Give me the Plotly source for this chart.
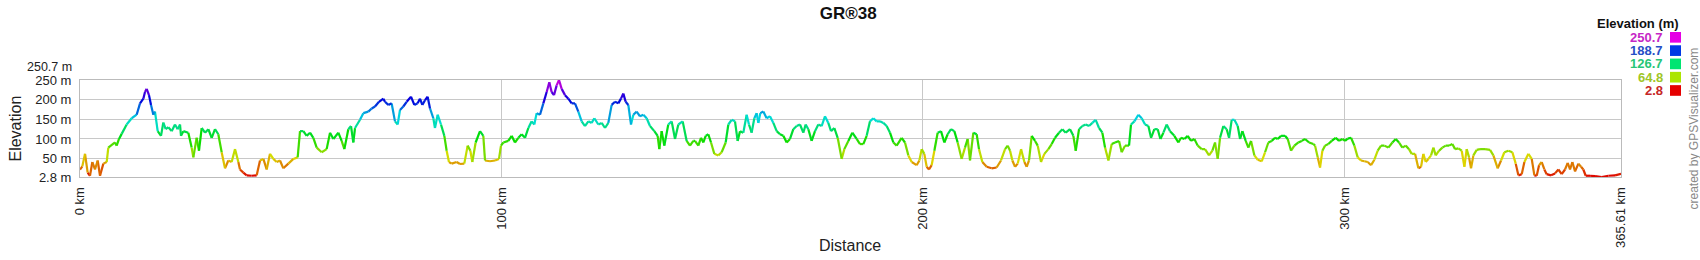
import colorsys
import plotly.graph_objects as go

chart_title = "GR®38"

distance_km = [
    0, 0.55, 1.19, 1.82, 2.37, 2.93, 3.56, 4.19, 4.75, 5.54, 6.33, 6.72, 8.30, 8.70, 9.25,
    9.89, 11.07, 12.26, 13.44, 14.24, 15.03, 15.42, 15.82, 16.37, 16.85, 17.40, 17.79, 18.43,
    19.22, 19.77, 20.33, 20.96, 21.75, 22.54, 23.17, 23.73, 23.96, 24.52, 25.70, 26.49, 26.89,
    27.68, 28.23, 28.87, 29.66, 30.45, 31.24, 32.03, 32.82, 33.61, 34.40, 35.19, 35.98, 36.78,
    37.57, 37.96, 38.75, 39.54, 40.73, 41.92, 42.71, 43.50, 44.29, 45.08, 45.87, 46.66, 47.45,
    48.24, 49.43, 50.62, 51.64, 52.20, 52.99, 53.78, 54.57, 55.36, 56.15, 57.34, 58.52, 59.32,
    60.11, 61.29, 62.08, 62.72, 63.66, 64.30, 64.85, 65.25, 66.43, 67.22, 68.41, 69.20, 69.99,
    70.94, 71.97,
    72.36, 73.15, 73.94, 74.73, 75.37, 75.92, 76.71, 77.50, 78.53, 79.32, 80.11, 80.66, 81.22,
    81.85, 82.48, 83.04, 83.83, 84.22, 84.86, 85.65, 86.44, 86.99, 87.54, 88.18, 89.36, 90.15,
    91.18, 91.97, 92.61, 93.08, 93.87, 94.90, 95.69, 96.09, 97.27, 98.46, 99.41, 99.88, 100.44,
    101.62, 102.41, 103.20, 104.00, 104.79, 105.58, 106.37, 107.16, 107.79, 108.34, 109.14,
    109.93, 110.72, 111.35, 111.90, 112.46, 113.09, 113.64, 114.28, 115.07, 115.86, 116.65,
    117.44, 118.23, 119.02, 119.81, 120.60, 121.39, 122.03, 122.98, 123.77, 124.56, 125.35,
    126.14, 126.93, 127.72, 128.35, 128.91, 129.46, 130.09, 130.73, 131.28, 132.07, 132.86,
    133.65, 134.44, 135.23, 136.26, 137.05, 137.45, 138.00, 138.63, 139.58, 140.38, 141.17,
    141.96, 142.99, 143.93, 144.72, 145.52,
    145.91, 146.70, 147.33, 147.89, 148.44, 149.07, 149.71, 150.50, 151.45, 152.24, 153.19,
    153.82, 154.61, 155.40, 156.03, 156.59, 157.38, 158.17, 158.72, 159.35, 159.99, 160.54,
    160.94, 161.41, 162.12, 162.91, 163.70, 164.50, 165.29, 166.08, 166.87, 167.66, 168.45,
    169.24, 170.03, 170.82, 171.61, 172.17, 172.80, 173.59, 174.38, 175.17, 175.96, 176.75,
    177.54, 178.18, 178.97, 179.76, 180.71, 181.34, 182.29, 183.24, 184.27, 185.06, 185.85,
    186.64, 187.43, 188.22, 189.01, 189.80, 190.60, 191.39, 192.18, 192.97, 193.76, 194.94,
    195.73, 196.53, 197.32, 198.50, 199.14, 199.69, 200.32, 200.88, 201.43, 202.06, 202.70,
    203.49, 204.28, 205.07, 205.86, 206.65, 207.44, 208.23, 209.18, 209.97, 210.60, 211.16,
    211.95, 212.74, 213.29, 214.08, 215.11, 216.30, 217.48, 218.51,
    219.47, 220.10, 220.66, 221.21, 221.84, 222.48, 223.27, 224.06, 224.61, 225.16, 225.80,
    226.59, 227.22, 228.01, 228.80, 229.75, 230.54, 231.33, 232.28, 233.07, 233.86, 234.89,
    235.68, 236.24, 237.03, 237.82, 238.61, 239.40, 240.19, 240.98, 241.77, 242.56, 243.20,
    243.99, 244.78, 245.57, 246.52, 247.15, 247.94, 248.89, 249.36, 250.16, 251.10, 251.90,
    252.69, 253.48, 254.11, 254.90, 255.69, 256.33, 257.04, 257.83, 258.62, 259.64, 260.59,
    261.23, 262.02, 262.81, 263.60, 264.39, 265.18, 266.13, 266.92, 267.87, 268.66, 269.29,
    269.93, 270.48, 271.27, 272.06, 272.62, 273.25, 273.88, 274.67, 275.23, 275.78, 276.57,
    277.20, 277.84, 278.63, 279.42, 280.37, 281.16, 281.95, 282.74, 283.53, 284.16, 284.95,
    285.90, 286.54, 287.33, 288.12, 289.07, 289.86, 290.65, 291.60, 292.63,
    293.02, 293.65, 294.21, 294.76, 295.39, 296.18, 296.97, 297.92, 298.71, 299.51, 300.14,
    300.77, 301.56, 302.35, 303.14, 303.93, 304.72, 305.52, 306.31, 307.10, 307.89, 308.68,
    309.47, 310.42, 311.37, 312.16, 312.95, 313.74, 314.53, 315.32, 315.95, 316.75, 317.54,
    318.17, 318.72, 319.28, 319.91, 320.54, 321.10, 321.65, 322.44, 323.23, 324.02, 324.81,
    325.60, 326.24, 327.03, 327.82, 328.45, 329.00, 329.56, 330.03, 330.59, 331.38, 332.17,
    333.35, 334.54, 335.33, 336.36, 337.15, 337.94, 338.89, 339.84, 340.63, 341.26, 342.05,
    342.69, 343.64, 344.43, 345.06, 345.61, 346.17, 346.80, 347.43, 347.98, 349.01, 349.96,
    350.75, 351.54, 352.33, 352.97, 353.52, 354.07, 354.71, 355.50, 356.13, 356.68, 357.24,
    358.27, 359.45, 361.04, 362.62, 364.20, 365.61,
]

elevation_m = [
    22, 30, 62, 14, 6, 41, 22, 45, 6, 37, 41, 78, 91, 83, 100,
    113, 137, 153, 162, 191, 203, 220, 228, 212, 187, 162, 170, 120,
    108, 142, 125, 130, 120, 137, 125, 137, 108, 120, 116, 78, 53,
    103, 70, 128, 116, 125, 103, 125, 112, 66, 25, 45, 41, 74,
    41, 22, 14, 7, 6, 7, 45, 49, 22, 62, 49, 41, 45,
    25, 37, 49, 53, 120, 120, 108, 116, 103, 78, 66, 74, 116,
    100, 116, 95, 74, 125, 133, 91, 128, 149, 166, 170, 178, 183,
    195, 203,
    195, 187, 191, 145, 137, 174, 183, 195, 208, 187, 191, 203, 187,
    199, 208, 178, 153, 128, 162, 137, 108, 70, 41, 37, 41, 36,
    37, 83, 70, 41, 91, 120, 108, 45, 43, 45, 49, 83, 91,
    95, 108, 91, 103, 112, 103, 128, 145, 137, 166, 162,
    191, 220, 245, 220, 212, 237, 250.7, 228, 212, 203, 191,
    191, 170, 145, 133, 145, 141, 153, 137, 141, 128, 141,
    187, 195, 191, 203, 216, 195, 187, 137, 162, 170, 158,
    162, 153, 133, 120, 108, 74, 120, 83, 137, 145, 100,
    137, 145, 95, 83, 95,
    95, 83, 103, 91, 108, 112, 91, 62, 58, 66, 91,
    137, 149, 145, 95, 120, 116, 162, 137, 116, 153, 166,
    141, 166, 170, 153, 158, 141, 120, 112, 108, 91, 100,
    125, 133, 137, 116, 137, 125, 95, 120, 137, 133, 158,
    141, 120, 128, 103, 49, 74, 95, 116, 100, 87, 87,
    108, 145, 153, 145, 145, 141, 133, 116, 91, 83, 103,
    91, 58, 41, 33, 45, 74, 62, 29, 22, 33, 70,
    116, 120, 91, 112, 125, 120, 91, 49, 78, 100, 45,
    116, 112, 74, 41, 29, 25, 27, 45,
    74, 83, 70, 45, 29, 37, 74, 41, 29, 45, 108,
    95, 83, 41, 62, 74, 87, 103, 116, 125, 116, 125,
    108, 70, 125, 133, 137, 133, 141, 149, 128, 116, 78,
    45, 87, 91, 95, 66, 83, 83, 137, 145, 162, 153,
    137, 133, 103, 125, 125, 100, 116, 137, 120, 108, 91,
    103, 100, 108, 95, 100, 83, 74, 74, 58, 70, 91,
    49, 103, 133, 125, 103, 149, 149, 133, 100, 120, 95,
    78, 95, 58, 47, 43, 66, 91, 95, 103, 100, 108,
    108, 100, 70, 83, 91, 95, 100, 91, 87,
    83, 53, 27, 70, 83, 87, 95, 103, 95, 100, 95,
    101, 103, 83, 53, 45, 43, 41, 33, 47, 70, 83,
    83, 78, 91, 100, 91, 78, 83, 74, 62, 62, 25,
    29, 62, 41, 49, 58, 78, 58, 70, 78, 83, 83,
    87, 74, 76, 70, 29, 74, 53, 25, 58, 72, 74,
    74, 72, 58, 25, 45, 66, 70, 66, 37, 7, 10,
    41, 62, 49, 7, 6, 33, 41, 22, 10, 7, 12,
    22, 10, 22, 39, 22, 41, 17, 37, 29, 22, 6,
    6, 5, 2.8, 6, 7, 11,
]

legend_values = [250.7, 188.7, 126.7, 64.8, 2.8]
legend_labels = ["250.7", "188.7", "126.7", "64.8", "2.8"]
legend_title = "Elevation (m)"

x_tick_values = [0, 100, 200, 300, 365.61]
x_tick_labels = ["0 km", "100 km", "200 km", "300 km", "365.61 km"]
y_tick_values = [2.8, 50, 100, 150, 200, 250]
y_tick_labels = ["2.8 m", "50 m", "100 m", "150 m", "200 m", "250 m"]
y_top_label = "250.7 m"
x_title = "Distance"
y_title = "Elevation"
credit = "created by GPSVisualizer.com"

# ---- styling / geometry ----
W, H = 1700, 260
L, R, T, B = 80, 1621, 80, 180
FONT = "Liberation Sans, Arial, sans-serif"
e_min, e_max = legend_values[-1], legend_values[0]


def hue_color(v, sat=1.0, val=0.87):
    f = max(0.0, min(1.0, (v - e_min) / (e_max - e_min)))
    r, g, b = colorsys.hsv_to_rgb(f * 300 / 360, sat, val)
    return f"rgb({int(r * 255)},{int(g * 255)},{int(b * 255)})"


def px_x(px):
    return (px - L) / (R - L)


def px_y(py):
    return (B - py) / (B - T)


fig = go.Figure()

n_bins = 60
bins = {}
for i in range(len(distance_km) - 1):
    mid = (elevation_m[i] + elevation_m[i + 1]) / 2
    k = min(n_bins - 1, int((mid - e_min) / (e_max - e_min) * n_bins))
    xs, ys = bins.setdefault(k, ([], []))
    xs += [distance_km[i], distance_km[i + 1], None]
    ys += [elevation_m[i], elevation_m[i + 1], None]

for k in sorted(bins):
    xs, ys = bins[k]
    center = e_min + (k + 0.5) / n_bins * (e_max - e_min)
    fig.add_trace(go.Scatter(
        x=xs, y=ys, mode="lines",
        line=dict(color=hue_color(center), width=2.2),
        hoverinfo="skip", showlegend=False, connectgaps=False,
    ))

fig.update_layout(
    width=W, height=H,
    margin=dict(l=L, r=W - R, t=T, b=H - B, pad=0),
    paper_bgcolor="white", plot_bgcolor="white",
    showlegend=False,
    font=dict(family=FONT, color="#222222"),
    title=dict(text=f"<b>{chart_title}</b>", x=0.499, xanchor="center",
               y=1 - 13 / H, yanchor="middle", font=dict(size=17, color="#111111")),
)

fig.update_xaxes(
    range=[0, 365.61], tickvals=x_tick_values, ticktext=x_tick_labels,
    tickangle=-90, tickfont=dict(size=13, color="#222222"),
    showgrid=True, gridcolor="#C8C8C8", gridwidth=1,
    showline=True, linecolor="#BBBBBB", linewidth=1, mirror=True,
    ticks="", zeroline=False, ticklabelstandoff=4,
)
fig.update_yaxes(
    range=[2.8, 250.7], tickvals=y_tick_values, ticktext=y_tick_labels,
    tickfont=dict(size=13, color="#222222"),
    showgrid=True, gridcolor="#C8C8C8", gridwidth=1,
    showline=True, linecolor="#BBBBBB", linewidth=1, mirror=True,
    ticks="", zeroline=False, ticklabelstandoff=5,
)

ann = []
# top-of-axis max label
ann.append(dict(xref="paper", yref="paper", x=px_x(74), y=px_y(66.5), xanchor="right",
                yanchor="middle", text=y_top_label, showarrow=False,
                font=dict(size=12.5, color="#222222", family=FONT)))
# axis titles
ann.append(dict(xref="paper", yref="paper", x=px_x(850), y=px_y(251), xanchor="center",
                yanchor="middle", text=x_title, showarrow=False,
                font=dict(size=16, color="#222222", family=FONT)))
ann.append(dict(xref="paper", yref="paper", x=px_x(15), y=px_y(130), xanchor="center",
                yanchor="middle", text=y_title, showarrow=False, textangle=-90,
                font=dict(size=16, color="#222222", family=FONT)))
# credit
ann.append(dict(xref="paper", yref="paper", x=px_x(1693), y=px_y(130), xanchor="center",
                yanchor="middle", text=credit, showarrow=False, textangle=-90,
                font=dict(size=12, color="#888888", family=FONT)))
# legend title
ann.append(dict(xref="paper", yref="paper", x=px_x(1681), y=px_y(22), xanchor="right",
                yanchor="middle", text=f"<b>{legend_title}</b>", showarrow=False,
                font=dict(size=13, color="#111111", family=FONT)))

shapes = []
for j, (v, lab) in enumerate(zip(legend_values, legend_labels)):
    cy = 36 + j * 13.7
    txt_col = hue_color(v, 0.8, 0.78)
    ann.append(dict(xref="paper", yref="paper", x=px_x(1665), y=px_y(cy), xanchor="right",
                    yanchor="middle", text=f"<b>{lab}</b>",
                    showarrow=False, font=dict(size=13, color=txt_col, family=FONT)))
    shapes.append(dict(type="rect", xref="paper", yref="paper",
                       x0=px_x(1670), x1=px_x(1681), y0=px_y(cy + 5.5), y1=px_y(cy - 5.5),
                       fillcolor=hue_color(v, 1.0, 0.9), line=dict(width=0)))

fig.update_layout(annotations=ann, shapes=shapes)

fig.write_html("out.html")
